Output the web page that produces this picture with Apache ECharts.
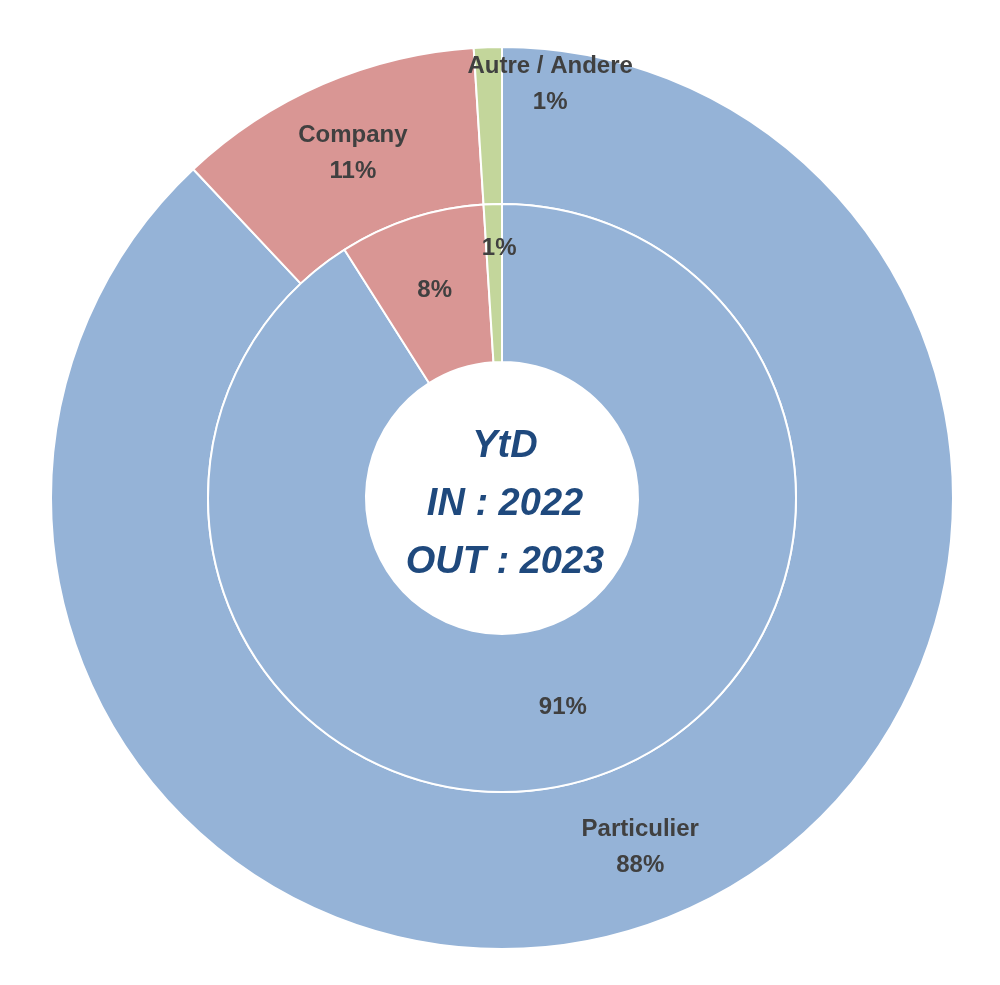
<!DOCTYPE html>
<html><head><meta charset="utf-8">
<script src="https://cdn.jsdelivr.net/npm/echarts@6/dist/echarts.min.js"></script>
<style>html,body{margin:0;background:#fff}#c{width:1000px;height:985px}</style>
</head><body><div id="c"></div>
<script>
const categories = ['Particulier', 'Company', 'Autre / Andere'];
const outValues = [88, 11, 1];
const inValues = [91, 8, 1];
const colors = ['#95b3d7', '#d99694', '#c3d69b'];
const lab = {color:'#404040', fontWeight:'bold', fontSize:24, fontFamily:'Liberation Sans, Arial', lineHeight:36};
const chart = echarts.init(document.getElementById('c'));
chart.setOption({
  animation:false,
  graphic:[{type:'text', x:505, y:418, style:{text:'YtD\nIN : 2022\nOUT : 2023', fill:'#1f497d', font:'italic bold 38px Liberation Sans, Arial', textAlign:'center', lineHeight:58}}],
  series:[
    {type:'pie', center:[502,498], radius:[294,451], startAngle:90, clockwise:true,
     itemStyle:{borderColor:'#fff', borderWidth:2},
     label:Object.assign({position:'inside', formatter:'{b}\n{c}%'}, lab), labelLine:{show:false},
     data:categories.map((n,i)=>({name:n, value:outValues[i], itemStyle:{color:colors[i]},
       label: i===2 ? {offset:[60,-38]} : undefined}))},
    {type:'pie', center:[502,498], radius:[136,294], startAngle:90, clockwise:true,
     itemStyle:{borderColor:'#fff', borderWidth:2},
     label:Object.assign({position:'inside', formatter:'{c}%'}, lab), labelLine:{show:false},
     data:categories.map((n,i)=>({name:n, value:inValues[i], itemStyle:{color:colors[i]},
       label: i===2 ? {offset:[4,-32]} : undefined}))}
  ]
});
</script></body></html>
